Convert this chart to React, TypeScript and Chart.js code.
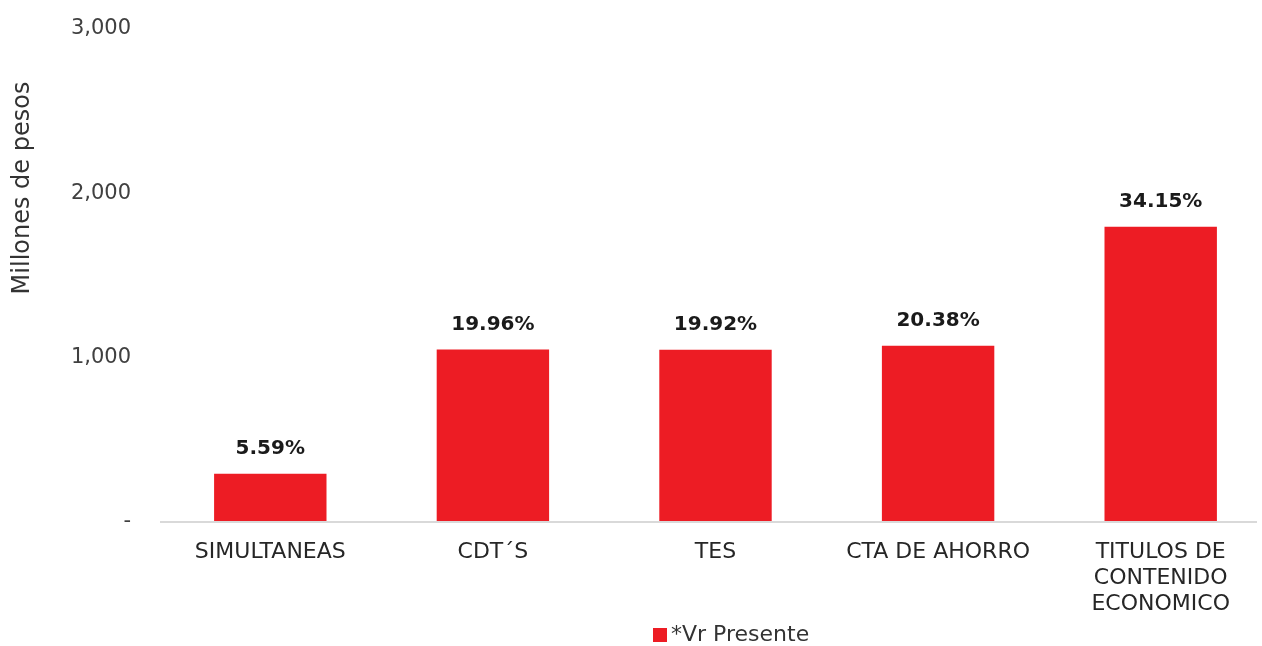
import React, { useEffect, useRef } from "react";
import { Chart, registerables } from "chart.js";

Chart.register(...registerables);

const categories: (string | string[])[] = [
  "SIMULTANEAS",
  "CDT´S",
  "TES",
  "CTA DE AHORRO",
  ["TITULOS DE", "CONTENIDO", "ECONOMICO"],
];
const values: number[] = [294, 1050, 1048, 1072, 1796];
const shareLabels: string[] = ["5.59%", "19.96%", "19.92%", "20.38%", "34.15%"];
const seriesName = "*Vr Presente";
const yTicks: number[] = [0, 1000, 2000, 3000];
const yTitle = "Millones de pesos";

const RED = "#ED1C24";
const FONT = "'DejaVu Sans', sans-serif";

export default function App() {
  const ref = useRef<HTMLCanvasElement | null>(null);

  useEffect(() => {
    document.documentElement.style.overflow = "hidden";
    document.body.style.margin = "0";
    document.body.style.overflow = "hidden";
    const canvas = ref.current;
    if (!canvas) return;

    const overlay = {
      id: "overlay",
      afterDatasetsDraw(chart: any) {
        const ctx = chart.ctx as CanvasRenderingContext2D;
        const meta = chart.getDatasetMeta(0);
        const yScale = chart.scales.y;
        const base = yScale.getPixelForValue(0);
        ctx.save();
        // baseline
        ctx.strokeStyle = "#d9d9d9";
        ctx.lineWidth = 2;
        ctx.beginPath();
        ctx.moveTo(160, base);
        ctx.lineTo(1257, base);
        ctx.stroke();
        // value labels
        ctx.fillStyle = "#1a1a1a";
        ctx.font = `bold 20px ${FONT}`;
        ctx.textAlign = "center";
        ctx.textBaseline = "middle";
        meta.data.forEach((bar: any, i: number) => {
          ctx.fillText(shareLabels[i], bar.x, bar.y - 25);
        });
        // y title
        ctx.save();
        ctx.translate(23, 188);
        ctx.rotate(-Math.PI / 2);
        ctx.font = `24px ${FONT}`;
        ctx.fillStyle = "#333333";
        ctx.fillText(yTitle, 0, 0);
        ctx.restore();
        // legend
        ctx.fillStyle = RED;
        ctx.fillRect(653, 628, 14, 14);
        ctx.fillStyle = "#333333";
        ctx.font = `22px ${FONT}`;
        ctx.textAlign = "left";
        ctx.fillText(seriesName, 671, 635);
        ctx.restore();
      },
    };

    const chart = new Chart(canvas, {
      type: "bar",
      data: {
        labels: categories,
        datasets: [
          {
            label: seriesName,
            data: values,
            backgroundColor: RED,
            borderWidth: 0,
            barPercentage: 0.505,
            categoryPercentage: 1,
          },
        ],
      },
      options: {
        animation: false,
        responsive: false,
        maintainAspectRatio: false,
        layout: { padding: { top: 29, right: 0, left: 0, bottom: 0 } },
        plugins: {
          legend: { display: false },
          tooltip: { enabled: false },
        },
        scales: {
          x: {
            offset: true,
            grid: { display: false, drawTicks: false },
            border: { display: false },
            ticks: {
              color: "#262626",
              font: { family: FONT, size: 22, lineHeight: 1.18 },
              padding: 17,
              maxRotation: 0,
              autoSkip: false,
            },
            afterFit(scale: any) {
              scale.height = 124;
            },
          },
          y: {
            min: 0,
            max: 3000,
            grid: { display: false, drawTicks: false },
            border: { display: false },
            afterBuildTicks(scale: any) {
              scale.ticks = yTicks.map((v) => ({ value: v }));
            },
            ticks: {
              color: "#404040",
              font: { family: FONT, size: 21 },
              padding: 28,
              callback: (v: any) => (Number(v) === 0 ? "-" : Number(v).toLocaleString("en-US")),
            },
            afterFit(scale: any) {
              scale.width = 159;
              scale.paddingTop = 0;
              scale.paddingBottom = 0;
            },
          },
        },
      },
      plugins: [overlay],
    });
    return () => chart.destroy();
  }, []);

  return (
    <div style={{ width: 1272, height: 646, position: "relative" }}>
      <canvas ref={ref} width={1272} height={646} style={{ display: "block" }} />
    </div>
  );
}
